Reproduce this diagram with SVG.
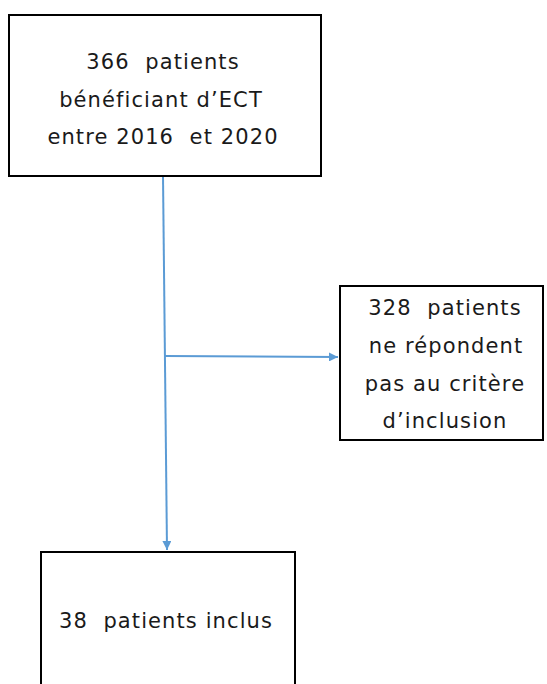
<svg xmlns="http://www.w3.org/2000/svg" width="547" height="684" viewBox="0 0 547 684">
<style>
.box{fill:#fff;stroke:#000;stroke-width:2}
.t{font-family:"DejaVu Sans","Liberation Sans",sans-serif;font-size:21px;letter-spacing:1.1px;fill:#1a1a1a;text-anchor:middle;white-space:pre}
.c{stroke:#5b9bd5;stroke-width:2;fill:none}
</style>
<defs>
<marker id="ah" viewBox="0 0 10 10" refX="10" refY="5" markerWidth="9" markerHeight="9" orient="auto" markerUnits="userSpaceOnUse">
<path d="M0,0 L10,5 L0,10 z" fill="#5b9bd5"/>
</marker>
</defs>
<rect width="547" height="684" fill="#fff"/>
<g id="connectors">
<path class="c" d="M163,176 L167,550" marker-end="url(#ah)"/>
<path class="c" d="M165,356 L338,357" marker-end="url(#ah)"/>
</g>
<g id="node-top">
<rect class="box" x="9" y="15" width="312" height="161"/>
<text class="t" x="163" y="69">366  patients</text>
<text class="t" x="161" y="107">bénéficiant d’ECT</text>
<text class="t" x="163" y="144">entre 2016  et 2020</text>
</g>
<g id="node-excluded">
<rect class="box" x="340" y="286" width="203" height="154"/>
<text class="t" x="445" y="315">328  patients</text>
<text class="t" x="446" y="353">ne répondent</text>
<text class="t" x="445" y="391">pas au critère</text>
<text class="t" x="445" y="428">d’inclusion</text>
</g>
<g id="node-included">
<rect class="box" x="41" y="552" width="254" height="140"/>
<text class="t" x="166" y="628">38  patients inclus</text>
</g>
</svg>
